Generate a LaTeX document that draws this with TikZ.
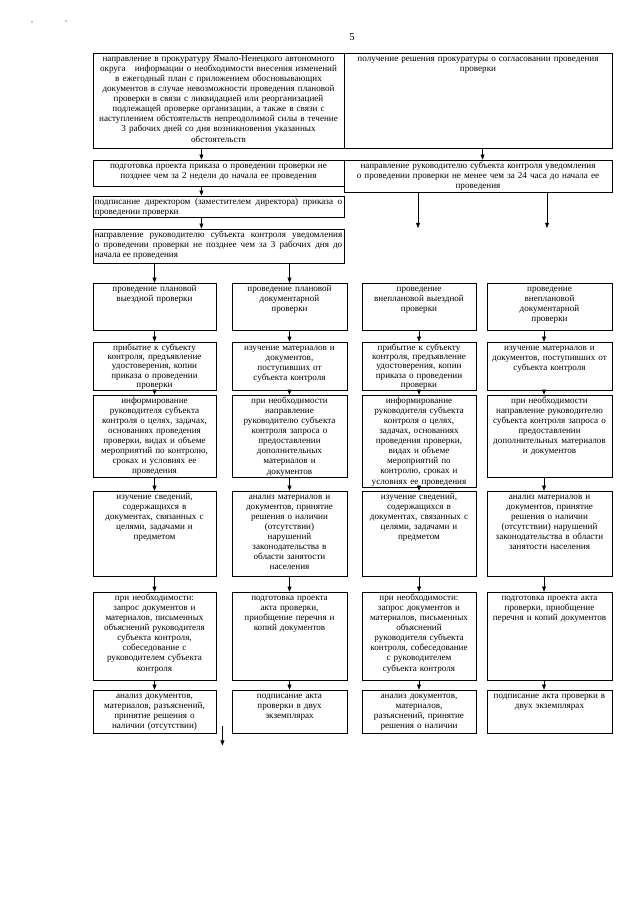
\documentclass[tikz,border=0pt]{standalone}
\usepackage{fontspec}
\setmainfont{Liberation Serif}
\usepackage{tikz}
\usetikzlibrary{positioning,arrows.meta,fit}
\tikzset{
  frm/.style  ={draw=black, line width=0.6pt, inner sep=0pt},
  txt/.style  ={align=center, text width=#1, font=\fontsize{8.5}{9.4}\selectfont, inner sep=0.5mm,
                anchor=north, execute at begin node={\rule{0pt}{6pt}}},
  jtxt/.style ={txt=#1, align=justify},
  tight/.style={font=\fontsize{8.5}{8.6}\selectfont},
  ar/.style   ={-{Triangle[length=1.7mm,width=1.3mm]}, draw=black, line width=0.5pt},
}
\begin{document}
\begin{tikzpicture}[x=0.3281mm,y=-0.3281mm,node distance=0.2mm]
\useasboundingbox[fill=white] (0,0) rectangle (640,905);
\node[font=\fontsize{10}{12}\selectfont] (pnum) at (352,37) {5};
\fill (32,22) circle (0.2mm);
\fill (66,21) circle (0.2mm);

% general part
\node[frm,fit={(93,53) (344,148)}] (prok) {};
\node[frm,fit={(344,53) (612,148)}] (resh) {};
\node[frm,fit={(93,160) (344,186)}] (prik) {};
\node[frm,fit={(344,160) (612,192)}] (uv24) {};
\node[frm,fit={(93,196) (344,217)}] (podp) {};
\node[frm,fit={(93,229) (344,263)}] (uv3) {};

\node[txt=81.2mm,below=of prok.north] (prokt) {направление в прокуратуру Ямало-Ненецкого автономного\\
  округа\quad информации о необходимости внесения изменений\\ в ежегодный план с приложением обосновывающих\\
  документов в случае невозможности проведения плановой\\ проверки в связи с ликвидацией или реорганизацией\\
  подлежащей проверке организации, а также в связи с\\ наступлением обстоятельств непреодолимой силы в течение\\
  3 рабочих дней со дня возникновения указанных\\ обстоятельств};
\node[txt=86.8mm,below=of resh.north] (resht) {получение решения прокуратуры о согласовании проведения\\ проверки};
\node[txt=81.2mm,below=of prik.north] (prikt) {подготовка проекта приказа о проведении проверки не\\ позднее чем за 2 недели до начала ее проведения};
\node[txt=86.8mm,below=of uv24.north] (uv24t) {направление руководителю субъекта контроля уведомления\\
  о проведении проверки не менее чем за 24 часа до начала ее\\ проведения};
\node[jtxt=81.2mm,below=of podp.north] (podpt) {подписание директором (заместителем директора) приказа о\linebreak проведении проверки};
\node[jtxt=81.2mm,below=of uv3.north] (uv3t) {направление руководителю субъекта контроля уведомления\linebreak
  о проведении проверки не позднее чем за 3 рабочих дня до\linebreak начала ее проведения};

% kinds of check
\node[frm,fit={(93,283) (216,330)}] (a1) {};
\node[frm,fit={(232,283) (347,330)}] (a2) {};
\node[frm,fit={(362,283) (476,330)}] (a3) {};
\node[frm,fit={(487,283) (612,330)}] (a4) {};
\node[txt=39.2mm,below=of a1.north] (a1t) {проведение плановой\\ выездной проверки};
\node[txt=36.6mm,below=of a2.north] (a2t) {проведение плановой\\ документарной\\ проверки};
\node[txt=36.3mm,below=of a3.north] (a3t) {проведение\\ внеплановой выездной\\ проверки};
\node[txt=39.8mm,below=of a4.north] (a4t) {проведение\\ внеплановой\\ документарной\\ проверки};

\node[frm,fit={(93,342) (216,390)}] (b1) {};
\node[frm,fit={(232,342) (347,390)}] (b2) {};
\node[frm,fit={(362,342) (476,390)}] (b3) {};
\node[frm,fit={(487,342) (612,390)}] (b4) {};
\node[txt=39.2mm,tight,below=of b1.north] (b1t) {прибытие к субъекту\\ контроля, предъявление\\ удостоверения, копии\\ приказа о проведении\\ проверки};
\node[txt=36.6mm,below=of b2.north] (b2t) {изучение материалов и\\ документов,\\ поступивших от\\ субъекта контроля};
\node[txt=36.3mm,tight,below=of b3.north] (b3t) {прибытие к субъекту\\ контроля, предъявление\\ удостоверения, копии\\ приказа о проведении\\ проверки};
\node[txt=39.8mm,below=of b4.north] (b4t) {изучение материалов и\\ документов, поступивших от\\ субъекта контроля};

\node[frm,fit={(93,395) (216,477)}] (c1) {};
\node[frm,fit={(232,395) (347,477)}] (c2) {};
\node[frm,fit={(362,395) (476,487)}] (c3) {};
\node[frm,fit={(487,395) (612,477)}] (c4) {};
\node[txt=39.2mm,below=of c1.north] (c1t) {информирование\\ руководителя субъекта\\ контроля о целях, задачах,\\ основаниях проведения\\
  проверки, видах и объеме\\ мероприятий по контролю,\\ сроках и условиях ее\\ проведения};
\node[txt=36.6mm,below=of c2.north] (c2t) {при необходимости\\ направление\\ руководителю субъекта\\ контроля запроса о\\
  предоставлении\\ дополнительных\\ материалов и\\ документов};
\node[txt=36.3mm,below=of c3.north] (c3t) {информирование\\ руководителя субъекта\\ контроля о целях,\\ задачах, основаниях\\
  проведения проверки,\\ видах и объеме\\ мероприятий по\\ контролю, сроках и\\ условиях ее проведения};
\node[txt=39.8mm,below=of c4.north] (c4t) {при необходимости\\ направление руководителю\\ субъекта контроля запроса о\\
  предоставлении\\ дополнительных материалов\\ и документов};

\node[frm,fit={(93,491) (216,576)}] (d1) {};
\node[frm,fit={(232,491) (347,576)}] (d2) {};
\node[frm,fit={(362,491) (476,576)}] (d3) {};
\node[frm,fit={(487,491) (612,576)}] (d4) {};
\node[txt=39.2mm,below=of d1.north] (d1t) {изучение сведений,\\ содержащихся в\\ документах, связанных с\\ целями, задачами и\\ предметом};
\node[txt=36.6mm,below=of d2.north] (d2t) {анализ материалов и\\ документов, принятие\\ решения о наличии\\ (отсутствии)\\
  нарушений\\ законодательства в\\ области занятости\\ населения};
\node[txt=36.3mm,below=of d3.north] (d3t) {изучение сведений,\\ содержащихся в\\ документах, связанных с\\ целями, задачами и\\ предметом};
\node[txt=39.8mm,below=of d4.north] (d4t) {анализ материалов и\\ документов, принятие\\ решения о наличии\\ (отсутствии) нарушений\\
  законодательства в области\\ занятости населения};

\node[frm,fit={(93,592) (216,680)}] (e1) {};
\node[frm,fit={(232,592) (347,680)}] (e2) {};
\node[frm,fit={(362,592) (476,680)}] (e3) {};
\node[frm,fit={(487,592) (612,680)}] (e4) {};
\node[txt=39.2mm,below=of e1.north] (e1t) {при необходимости:\\ запрос документов и\\ материалов, письменных\\ объяснений руководителя\\
  субъекта контроля,\\ собеседование с\\ руководителем субъекта\\ контроля};
\node[txt=36.6mm,below=of e2.north] (e2t) {подготовка проекта\\ акта проверки,\\ приобщение перечня и\\ копий документов};
\node[txt=36.3mm,below=of e3.north] (e3t) {при необходимости:\\ запрос документов и\\ материалов, письменных\\ объяснений\\
  руководителя субъекта\\ контроля, собеседование\\ с руководителем\\ субъекта контроля};
\node[txt=39.8mm,below=of e4.north] (e4t) {подготовка проекта акта\\ проверки, приобщение\\ перечня и копий документов};

\node[frm,fit={(93,690) (216,733)}] (f1) {};
\node[frm,fit={(232,690) (347,733)}] (f2) {};
\node[frm,fit={(362,690) (476,733)}] (f3) {};
\node[frm,fit={(487,690) (612,733)}] (f4) {};
\node[txt=39.2mm,below=of f1.north] (f1t) {анализ документов,\\ материалов, разъяснений,\\ принятие решения о\\ наличии (отсутствии)};
\node[txt=36.6mm,below=of f2.north] (f2t) {подписание акта\\ проверки в двух\\ экземплярах};
\node[txt=36.3mm,below=of f3.north] (f3t) {анализ документов,\\ материалов,\\ разъяснений, принятие\\ решения о наличии};
\node[txt=39.8mm,below=of f4.north] (f4t) {подписание акта проверки в\\ двух экземплярах};

% arrows
\draw[ar] ([xshift=-5.6mm]prok.south) -- ([xshift=-5.6mm]prik.north);
\draw[ar] ([xshift=1.5mm]resh.south) -- ([xshift=1.5mm]uv24.north);
\draw[ar] ([xshift=-5.6mm]prik.south) -- ([xshift=-5.6mm]podp.north);
\draw[ar] ([xshift=-5.6mm]podp.south) -- ([xshift=-5.6mm]uv3.north);
\draw[ar] (a1.north |- uv3.south) -- (a1.north);
\draw[ar] (a2.north |- uv3.south) -- (a2.north);
\coordinate (g3) at (418,228);
\coordinate (g4) at (547,228);
\draw[ar] (g3 |- uv24.south) -- (g3);
\draw[ar] (g4 |- uv24.south) -- (g4);

\draw[ar] (a1)--(b1); \draw[ar] (a2)--(b2); \draw[ar] (a3)--(b3);
\draw[ar] ([xshift=-1.8mm]a4.south)--([xshift=-1.8mm]b4.north);
\draw[ar] (b1)--(c1); \draw[ar] (b2)--(c2); \draw[ar] (b3)--(c3);
\draw[ar] ([xshift=-1.8mm]b4.south)--([xshift=-1.8mm]c4.north);
\draw[ar] (c1)--(d1); \draw[ar] (c2)--(d2); \draw[ar] (c3)--(d3);
\draw[ar] ([xshift=-1.8mm]c4.south)--([xshift=-1.8mm]d4.north);
\draw[ar] (d1)--(e1); \draw[ar] (d2)--(e2); \draw[ar] (d3)--(e3);
\draw[ar] ([xshift=-1.8mm]d4.south)--([xshift=-1.8mm]e4.north);
\draw[ar] (e1)--(f1); \draw[ar] (e2)--(f2); \draw[ar] (e3)--(f3);
\draw[ar] ([xshift=-1.8mm]e4.south)--([xshift=-1.8mm]f4.north);

\coordinate (h1) at ([xshift=2mm,yshift=2.3mm]f1.south east);
\coordinate (h2) at ([xshift=2mm,yshift=-4mm]f1.south east);
\draw[ar] (h1) -- (h2);
\end{tikzpicture}
\end{document}
